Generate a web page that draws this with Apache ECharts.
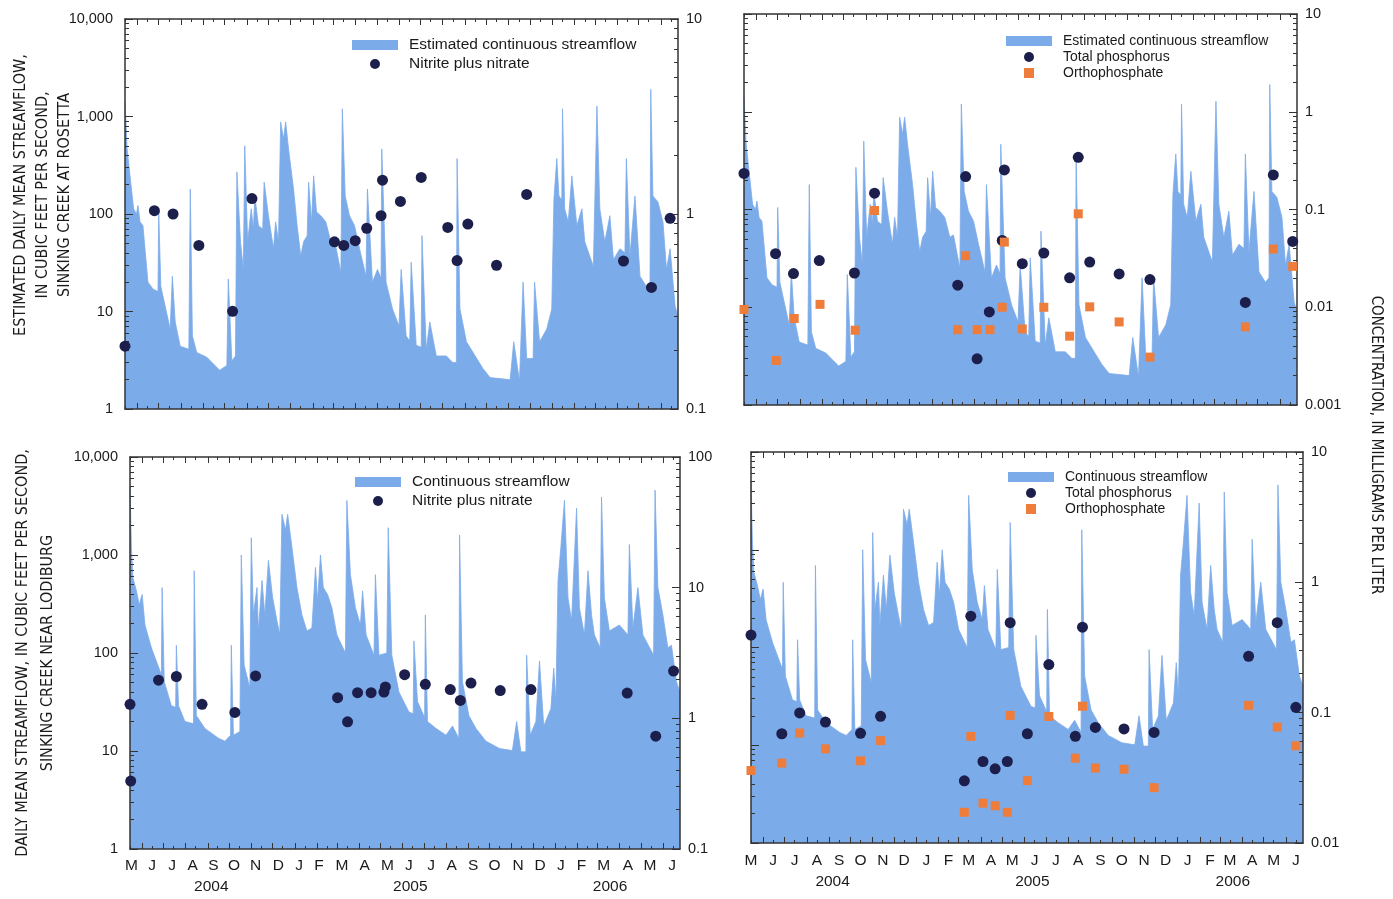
<!DOCTYPE html>
<html><head><meta charset="utf-8">
<script src="https://cdn.jsdelivr.net/npm/echarts@6/dist/echarts.min.js"></script>
<style>html,body{margin:0;padding:0;background:#fff}#c{width:1393px;height:899px}</style>
</head><body><div id="c"></div>
<script>
// ---------------- DATA ----------------
// Estimated daily mean streamflow, Sinking Creek at Rosetta (cfs)
const rosettaFlow = [
['2004-05-15',1400],['2004-05-18',465],['2004-05-22',246],['2004-05-27',113],['2004-05-31',100],['2004-06-02',122],
['2004-06-05',83],['2004-06-09',76],['2004-06-16',20],['2004-06-23',17],['2004-06-30',16],['2004-07-01',105],
['2004-07-04',18],['2004-07-17',6.6],['2004-07-19',6.5],['2004-07-20',23],['2004-07-24',7.8],['2004-07-31',4.4],
['2004-08-12',4.1],['2004-08-14',180],['2004-08-17',5.6],['2004-08-23',3.8],['2004-09-06',3.4],['2004-09-24',2.5],
['2004-10-04',2.8],['2004-10-06',21.6],['2004-10-11',3.1],['2004-10-16',3.5],['2004-10-18',270],['2004-10-23',52],
['2004-10-27',27],['2004-10-29',500],['2004-11-02',52],['2004-11-07',113],['2004-11-10',70],['2004-11-12',153],
['2004-11-17',76],['2004-11-23',70],['2004-11-25',212],['2004-12-01',96],['2004-12-08',44],['2004-12-11',83],
['2004-12-15',52],['2004-12-18',880],['2004-12-22',590],['2004-12-25',880],['2004-12-29',465],['2005-01-05',180],
['2005-01-10',76],['2005-01-15',37],['2005-01-19',52],['2005-01-24',60],['2005-01-26',212],['2005-01-30',83],
['2005-02-02',246],['2005-02-06',105],['2005-02-12',96],['2005-02-19',83],['2005-02-26',52],['2005-03-03',55],
['2005-03-12',25],['2005-03-14',1200],['2005-03-18',153],['2005-03-24',96],['2005-03-31',76],['2005-04-07',44],
['2005-04-16',23],['2005-04-18',180],['2005-04-25',20],['2005-05-02',27],['2005-05-07',22],['2005-05-08',465],
['2005-05-14',20],['2005-05-23',10.6],['2005-06-01',7.1],['2005-06-04',27],['2005-06-11',5.6],['2005-06-16',5],
['2005-06-18',32],['2005-06-25',4.5],['2005-07-02',4.3],['2005-07-03',60],['2005-07-09',4.1],['2005-07-14',7.8],
['2005-07-23',3.5],['2005-08-06',3.5],['2005-08-15',3.0],['2005-08-20',3.0],['2005-08-21',370],['2005-08-25',10.6],
['2005-09-03',4.9],['2005-09-26',2.6],['2005-10-06',2.1],['2005-11-03',2.0],['2005-11-08',4.9],['2005-11-16',1.94],
['2005-11-21',20],['2005-11-26',3.3],['2005-12-05',3.3],['2005-12-07',20],['2005-12-14',4.9],['2005-12-24',6.6],
['2005-12-31',10.6],['2006-01-03',142],['2006-01-07',370],['2006-01-10',153],['2006-01-14',140],['2006-01-15',1200],
['2006-01-18',113],['2006-01-23',83],['2006-01-28',246],['2006-02-04',76],['2006-02-11',113],['2006-02-15',52],
['2006-02-22',37],['2006-02-27',29],['2006-03-04',1280],['2006-03-08',113],['2006-03-15',52],['2006-03-22',96],
['2006-03-27',34],['2006-04-05',44],['2006-04-12',40],['2006-04-14',370],['2006-04-19',37],['2006-04-26',153],
['2006-05-03',23],['2006-05-12',18],['2006-05-17',20],['2006-05-18',1900],['2006-05-21',153],['2006-05-28',133],
['2006-06-04',83],['2006-06-09',27],['2006-06-14',44],['2006-06-21',11.3],['2006-06-25',9]
];
// Daily mean streamflow, Sinking Creek near Lodiburg (cfs)
const lodiburgFlow = [
['2004-05-15',5000],['2004-05-17',1200],['2004-05-19',590],['2004-05-24',430],['2004-05-28',310],['2004-06-01',395],
['2004-06-05',193],['2004-06-14',113],['2004-06-23',75],['2004-06-28',60],['2004-06-29',465],['2004-07-02',51],
['2004-07-12',29],['2004-07-18',28],['2004-07-19',120],['2004-07-22',29],['2004-07-31',20],['2004-08-12',19],
['2004-08-13',690],['2004-08-16',23],['2004-08-28',17],['2004-09-16',13.5],['2004-09-25',12.6],['2004-10-03',14.5],
['2004-10-04',120],['2004-10-07',14.5],['2004-10-16',15.8],['2004-10-18',1000],['2004-10-22',75],['2004-10-30',44],
['2004-11-01',1500],['2004-11-04',245],['2004-11-09',465],['2004-11-11',168],['2004-11-16',550],['2004-11-20',245],
['2004-11-25',880],['2004-12-01',365],['2004-12-07',213],['2004-12-11',153],['2004-12-14',2600],['2004-12-19',1800],
['2004-12-22',2600],['2004-12-28',1200],['2005-01-04',465],['2005-01-11',245],['2005-01-18',168],['2005-01-25',180],
['2005-01-30',745],['2005-02-02',340],['2005-02-06',1000],['2005-02-10',465],['2005-02-16',395],['2005-02-22',290],
['2005-03-01',153],['2005-03-13',100],['2005-03-15',3600],['2005-03-20',630],['2005-03-27',290],['2005-04-03',193],
['2005-04-06',430],['2005-04-11',153],['2005-04-22',95],['2005-04-24',630],['2005-04-29',95],['2005-05-10',100],
['2005-05-12',1900],['2005-05-17',95],['2005-05-27',40],['2005-06-10',25],['2005-06-16',24],['2005-06-17',133],
['2005-06-22',32],['2005-07-02',22],['2005-07-03',245],['2005-07-06',20],['2005-07-18',17],['2005-08-01',14.5],
['2005-08-10',18],['2005-08-19',13.5],['2005-08-20',1600],['2005-08-24',51],['2005-09-02',23],['2005-09-12',17],
['2005-09-26',12.6],['2005-10-15',10.6],['2005-11-02',10.1],['2005-11-08',20],['2005-11-14',9.8],['2005-11-21',9.8],
['2005-11-22',95],['2005-11-27',14.5],['2005-12-05',20],['2005-12-10',83],['2005-12-16',18],['2005-12-26',27],
['2005-12-30',70],['2006-01-02',32],['2006-01-05',550],['2006-01-09',1200],['2006-01-14',3600],['2006-01-19',365],
['2006-01-24',213],['2006-01-31',3000],['2006-02-04',290],['2006-02-11',153],['2006-02-16',690],['2006-02-21',245],
['2006-02-25',153],['2006-03-05',113],['2006-03-07',3900],['2006-03-11',365],['2006-03-18',168],['2006-03-25',180],
['2006-04-01',193],['2006-04-13',153],['2006-04-15',1280],['2006-04-20',180],['2006-04-27',465],['2006-05-04',153],
['2006-05-19',95],['2006-05-21',4600],['2006-05-25',465],['2006-06-01',245],['2006-06-08',113],['2006-06-13',120],
['2006-06-20',51],['2006-06-25',40]
];
// Nitrite plus nitrate (mg/L)
const nitrateRosetta = [
['2004-05-15',0.21],['2004-06-25',1.04],['2004-07-21',1.0],['2004-08-26',0.69],['2004-10-12',0.317],['2004-11-08',1.2],
['2005-03-03',0.72],['2005-03-16',0.69],['2005-04-01',0.73],['2005-04-17',0.845],['2005-05-07',0.98],['2005-05-09',1.49],
['2005-06-03',1.16],['2005-07-02',1.54],['2005-08-08',0.853],['2005-08-21',0.577],['2005-09-05',0.888],['2005-10-15',0.546],
['2005-11-26',1.26],['2006-04-10',0.574],['2006-05-19',0.42],['2006-06-14',0.95]
];
const nitrateLodiburg = [
['2004-05-15',1.28],['2004-05-16',0.331],['2004-06-24',1.96],['2004-07-19',2.09],['2004-08-24',1.28],['2004-10-09',1.11],
['2004-11-07',2.11],['2005-03-02',1.44],['2005-03-16',0.94],['2005-03-30',1.57],['2005-04-18',1.57],['2005-05-06',1.59],
['2005-05-08',1.74],['2005-06-04',2.16],['2005-07-03',1.82],['2005-08-07',1.66],['2005-08-21',1.37],['2005-09-05',1.86],
['2005-10-16',1.63],['2005-11-28',1.66],['2006-04-12',1.56],['2006-05-22',0.73],['2006-06-16',2.30]
];
// Total phosphorus (mg/L)
const phosphorusRosetta = [
['2004-05-15',0.234],['2004-06-28',0.0353],['2004-07-23',0.0221],['2004-08-28',0.030],['2004-10-16',0.0224],['2004-11-13',0.147],
['2005-03-09',0.0168],['2005-03-20',0.217],['2005-04-05',0.00297],['2005-04-22',0.00896],['2005-05-10',0.0483],['2005-05-13',0.254],
['2005-06-07',0.0279],['2005-07-07',0.0358],['2005-08-12',0.020],['2005-08-24',0.342],['2005-09-09',0.029],['2005-10-20',0.0219],
['2005-12-02',0.0192],['2006-04-14',0.0112],['2006-05-23',0.226],['2006-06-19',0.0471]
];
const phosphorusLodiburg = [
['2004-05-15',0.394],['2004-06-27',0.0689],['2004-07-22',0.0995],['2004-08-27',0.0847],['2004-10-15',0.0694],['2004-11-12',0.0937],
['2005-03-09',0.030],['2005-03-18',0.55],['2005-04-04',0.0422],['2005-04-21',0.0371],['2005-05-08',0.0422],['2005-05-12',0.49],
['2005-06-05',0.0689],['2005-07-05',0.234],['2005-08-11',0.0658],['2005-08-21',0.453],['2005-09-08',0.077],['2005-10-18',0.075],
['2005-11-29',0.0705],['2006-04-10',0.271],['2006-05-20',0.49],['2006-06-15',0.11]
];
// Orthophosphate (mg/L)
const orthoRosetta = [
['2004-05-15',0.0095],['2004-06-29',0.00286],['2004-07-24',0.00767],['2004-08-29',0.0107],['2004-10-17',0.00582],['2004-11-13',0.0977],
['2005-03-09',0.0059],['2005-03-20',0.0337],['2005-04-05',0.0059],['2005-04-23',0.0059],['2005-05-10',0.010],['2005-05-13',0.0464],
['2005-06-07',0.006],['2005-07-07',0.010],['2005-08-12',0.00506],['2005-08-24',0.0903],['2005-09-09',0.0101],['2005-10-20',0.00708],
['2005-12-02',0.00309],['2006-04-14',0.0063],['2006-05-23',0.0394],['2006-06-19',0.0262]
];
const orthoLodiburg = [
['2004-05-15',0.036],['2004-06-27',0.041],['2004-07-22',0.0698],['2004-08-27',0.0528],['2004-10-15',0.0427],['2004-11-12',0.061],
['2005-03-09',0.0172],['2005-03-18',0.0658],['2005-04-04',0.0202],['2005-04-21',0.0193],['2005-05-08',0.0172],['2005-05-12',0.0953],
['2005-06-05',0.0301],['2005-07-05',0.0935],['2005-08-11',0.0448],['2005-08-21',0.112],['2005-09-08',0.0376],['2005-10-18',0.0368],
['2005-11-29',0.0266],['2006-04-10',0.1138],['2006-05-20',0.0776],['2006-06-15',0.0557]
];
// Axis ranges and tick labels
const X_RANGE = ['2004-05-15', '2006-06-25'];
const MONTH_LETTERS = ['J','F','M','A','M','J','J','A','S','O','N','D'];
// month-letter label positions (as set in the lower-left panel of the original)
const MONTH_LABEL_DATES_LEFT = ['2004-05-17','2004-06-15','2004-07-13','2004-08-11','2004-09-09','2004-10-08','2004-11-07',
  '2004-12-09','2005-01-07','2005-02-04','2005-03-08','2005-04-09','2005-05-11','2005-06-10','2005-07-11','2005-08-09',
  '2005-09-08','2005-10-08','2005-11-10','2005-12-11','2006-01-09','2006-02-07','2006-03-10','2006-04-13','2006-05-14','2006-06-14'];
const YEAR_LABEL_DATES = ['2004-09-06', '2005-06-12', '2006-03-19'];
const FLOW_RANGE = [1, 10000];
const CONC_RANGES = [[0.1, 10], [0.001, 10], [0.1, 100], [0.01, 10]];

// ---------------- HELPERS ----------------
function ts(s){ const p = s.split('-').map(Number); return new Date(p[0], p[1]-1, p[2]).getTime(); }
function toXY(arr){ return arr.map(d => [ts(d[0]), d[1]]); }
const X_MIN = ts(X_RANGE[0]), X_MAX = ts(X_RANGE[1]);
const midMonthTs = [], monthStartTs = [];
for (let y = 2004, m = 4; y < 2006 || (y === 2006 && m <= 5); ) {
  midMonthTs.push(new Date(y, m, 15).getTime());
  monthStartTs.push(new Date(y, m, 1).getTime());
  m++; if (m > 11) { m = 0; y++; }
}
const inRange = t => t >= X_MIN && t <= X_MAX;
const majorXTicks = monthStartTs.filter(inRange);
const minorXTicks = midMonthTs.filter(inRange);
const monthLabelsLeft = MONTH_LABEL_DATES_LEFT.map(ts);
const yearTs = YEAR_LABEL_DATES.map(ts);
function decades(min, max){ const a=[]; for (let e=Math.round(Math.log10(min)); e<=Math.round(Math.log10(max)); e++) a.push(Number(Math.pow(10,e).toPrecision(1))); return a; }
// minor tick positions expressed in log10 space (2..9 within each decade)
function minorLogs(min, max){ const a=[]; for (let e=Math.round(Math.log10(min)); e<Math.round(Math.log10(max)); e++) for (let k=2;k<=9;k++) a.push(e + Math.log10(k)); return a; }
function fmtFlow(v){ v = Number(Number(v).toPrecision(2)); return v >= 1000 ? v.toLocaleString('en-US') : String(v); }
function fmtConc(v){ return String(Number(Number(v).toPrecision(2))); }

const BLUE = '#7CABEA', NAVY = '#1C1F4C', ORANGE = '#EE7D3B', AXIS = '#333', TXT = '#1a1a1a';
const FONT = '"Liberation Sans", Arial, sans-serif';
const NARROW = '"Liberation Sans Narrow", "DejaVu Sans Condensed", "Liberation Sans", sans-serif';
const RECT_ICON = 'path://M0,0H46V10H0Z';
const SQUARE_ICON = 'path://M0,0H10V10H0Z';
const AXIS_Z = 10;

const panels = [
  { grid:{left:125, top:19, width:553, height:390}, flow:rosettaFlow, flowName:'Estimated continuous streamflow',
    leftLabels:true, months:null, conc:[{name:'Nitrite plus nitrate', data:nitrateRosetta, kind:'dot'}],
    legend:{left:352, top:37, fontSize:15.5, lineHeight:16, itemGap:3},
    yName:'ESTIMATED DAILY MEAN STREAMFLOW,\nIN CUBIC FEET PER SECOND,\nSINKING CREEK AT ROSETTA', yNameGap:49, yNameLH:22, yNamePad:[0,0,0,38] },
  { grid:{left:744, top:14, width:553, height:391}, flow:rosettaFlow, flowName:'Estimated continuous streamflow',
    leftLabels:false, months:null, conc:[{name:'Total phosphorus', data:phosphorusRosetta, kind:'dot'},{name:'Orthophosphate', data:orthoRosetta, kind:'sq'}],
    legend:{left:1006, top:34, fontSize:14, lineHeight:14, itemGap:2} },
  { grid:{left:130, top:457, width:550, height:392}, flow:lodiburgFlow, flowName:'Continuous streamflow',
    leftLabels:true, months:monthLabelsLeft, monthMargin:9, yearMargin:30, conc:[{name:'Nitrite plus nitrate', data:nitrateLodiburg, kind:'dot'}],
    legend:{left:355, top:474, fontSize:15.5, lineHeight:16, itemGap:3},
    yName:'DAILY MEAN STREAMFLOW, IN CUBIC FEET PER SECOND,\nSINKING CREEK NEAR LODIBURG', yNameGap:70, yNameLH:25, yNamePad:0 },
  { grid:{left:751, top:452, width:552, height:391}, flow:lodiburgFlow, flowName:'Continuous streamflow',
    leftLabels:false, months:minorXTicks, monthMargin:10, yearMargin:31, conc:[{name:'Total phosphorus', data:phosphorusLodiburg, kind:'dot'},{name:'Orthophosphate', data:orthoLodiburg, kind:'sq'}],
    legend:{left:1008, top:470, fontSize:14, lineHeight:14, itemGap:2} }
];

const option = { animation:false, backgroundColor:'#fff', grid:[], xAxis:[], yAxis:[], series:[], legend:[],
  graphic:[{ type:'text', x:1376, y:445, rotation:-Math.PI/2,
    style:{ text:'CONCENTRATION, IN MILLIGRAMS PER LITER', font:'15px ' + NARROW, fill:TXT,
            textAlign:'center', textVerticalAlign:'middle', align:'center', verticalAlign:'middle' } }] };

const labelStyle = { color:TXT, fontFamily:FONT, fontSize:14.5 };
const lineStyle = { color:AXIS, width:1.5 };

panels.forEach((p, pi) => {
  const conc = CONC_RANGES[pi];
  const g = option.grid.length;
  option.grid.push(Object.assign({ show:false }, p.grid));
  const g2 = option.grid.length;
  option.grid.push(Object.assign({ show:false }, p.grid));

  // main grid axes
  const xMain = option.xAxis.length;
  option.xAxis.push({ type:'value', gridIndex:g, min:X_MIN, max:X_MAX, position:'bottom', z:AXIS_Z,
    axisLine:{ show:true, onZero:false, lineStyle }, splitLine:{ show:false },
    axisTick:{ show:true, inside:true, length:6, customValues:majorXTicks, lineStyle:{ color:AXIS, width:1 } },
    axisLabel: p.months ? { show:true, customValues:p.months, hideOverlap:false, margin:p.monthMargin,
        formatter:(v) => MONTH_LETTERS[new Date(v).getMonth()], color:TXT, fontFamily:FONT, fontSize:15.5 }
      : { show:false } });
  option.xAxis.push({ type:'value', gridIndex:g, min:X_MIN, max:X_MAX, position:'top', z:AXIS_Z,
    axisLine:{ show:true, onZero:false, lineStyle }, splitLine:{ show:false },
    axisTick:{ show:true, inside:true, length:6, customValues:majorXTicks, lineStyle:{ color:AXIS, width:1 } },
    axisLabel:{ show:false } });
  const yFlow = option.yAxis.length;
  option.yAxis.push({ type:'log', logBase:10, gridIndex:g, position:'left', min:FLOW_RANGE[0], max:FLOW_RANGE[1], z:AXIS_Z,
    axisLine:{ show:true, lineStyle }, splitLine:{ show:false },
    axisTick:{ show:true, inside:true, length:8, lineStyle:{ color:AXIS } },
    axisLabel: p.leftLabels ? Object.assign({ show:true, margin:12, customValues:decades(FLOW_RANGE[0], FLOW_RANGE[1]), formatter:fmtFlow }, labelStyle) : { show:false },
    name: p.yName || '', nameLocation:'middle', nameRotate:90, nameGap:p.yNameGap || 0, nameMoveOverlap:false,
    nameTextStyle:{ fontFamily:NARROW, fontSize:16, lineHeight:p.yNameLH || 22, color:TXT, padding:p.yNamePad || 0 } });
  const yConc = option.yAxis.length;
  option.yAxis.push({ type:'log', logBase:10, gridIndex:g, position:'right', min:conc[0], max:conc[1], z:AXIS_Z,
    axisLine:{ show:true, lineStyle }, splitLine:{ show:false },
    axisTick:{ show:true, inside:true, length:8, lineStyle:{ color:AXIS } },
    axisLabel: Object.assign({ show:true, margin:8, customValues:decades(conc[0], conc[1]), formatter:fmtConc }, labelStyle) });

  // overlay grid: minor ticks (half-month and 2..9 per decade) and year labels
  option.xAxis.push({ type:'value', gridIndex:g2, min:X_MIN, max:X_MAX, position:'bottom', z:AXIS_Z,
    axisLine:{ show:false, onZero:false }, splitLine:{ show:false },
    axisTick:{ show:true, inside:true, length:3, customValues:minorXTicks, lineStyle:{ color:AXIS, width:1 } },
    axisLabel: p.months ? { show:true, customValues:yearTs, hideOverlap:false, margin:p.yearMargin,
        formatter:(v) => String(new Date(v).getFullYear()), color:TXT, fontFamily:FONT, fontSize:15.5 } : { show:false } });
  option.xAxis.push({ type:'value', gridIndex:g2, min:X_MIN, max:X_MAX, position:'top', z:AXIS_Z,
    axisLine:{ show:false, onZero:false }, splitLine:{ show:false }, axisLabel:{ show:false },
    axisTick:{ show:true, inside:true, length:3, customValues:minorXTicks, lineStyle:{ color:AXIS, width:1 } } });
  option.yAxis.push({ type:'value', gridIndex:g2, position:'left', min:Math.log10(FLOW_RANGE[0]), max:Math.log10(FLOW_RANGE[1]), z:AXIS_Z,
    axisLine:{ show:false, onZero:false }, splitLine:{ show:false }, axisLabel:{ show:false },
    axisTick:{ show:true, inside:true, length:4, customValues:minorLogs(FLOW_RANGE[0], FLOW_RANGE[1]), lineStyle:{ color:AXIS } } });
  option.yAxis.push({ type:'value', gridIndex:g2, position:'right', min:Math.log10(conc[0]), max:Math.log10(conc[1]), z:AXIS_Z,
    axisLine:{ show:false, onZero:false }, splitLine:{ show:false }, axisLabel:{ show:false },
    axisTick:{ show:true, inside:true, length:4, customValues:minorLogs(conc[0], conc[1]), lineStyle:{ color:AXIS } } });

  option.series.push({ type:'line', name:p.flowName, xAxisIndex:xMain, yAxisIndex:yFlow, data:toXY(p.flow),
    symbol:'none', showSymbol:false, color:BLUE, z:1,
    lineStyle:{ color:BLUE, width:0.8 }, itemStyle:{ color:BLUE },
    areaStyle:{ color:BLUE, opacity:1, origin:'start' } });
  p.conc.forEach(c => {
    option.series.push({ type:'scatter', name:c.name, xAxisIndex:xMain, yAxisIndex:yConc, data:toXY(c.data),
      symbol: c.kind === 'dot' ? 'circle' : 'rect', symbolSize: c.kind === 'dot' ? 11 : 9,
      color: c.kind === 'dot' ? NAVY : ORANGE, itemStyle:{ color: c.kind === 'dot' ? NAVY : ORANGE, opacity:1 },
      clip:false, z: c.kind === 'dot' ? 12 : 13 });
  });
  const L = p.legend;
  option.legend.push({ left:L.left, top:L.top, orient:'vertical', selectedMode:false, itemWidth:58, itemHeight:10,
    itemGap:L.itemGap, padding:0,
    textStyle:{ fontFamily:FONT, fontSize:L.fontSize, lineHeight:L.lineHeight, color:TXT },
    data:[{ name:p.flowName, icon:RECT_ICON }].concat(p.conc.map(c => ({ name:c.name, icon: c.kind === 'dot' ? 'circle' : SQUARE_ICON }))) });
});

const chart = echarts.init(document.getElementById('c'), null, { renderer:'canvas' });
chart.setOption(option);
</script></body></html>
